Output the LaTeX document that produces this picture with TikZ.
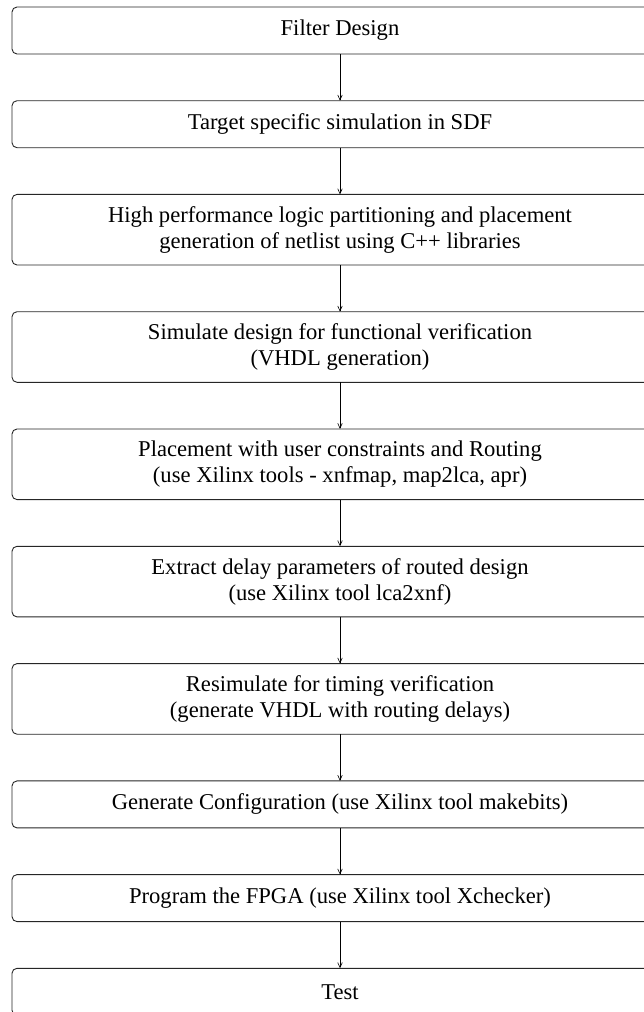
\documentclass[tikz,border=0pt]{standalone}
\usepackage{fontspec}
\setmainfont{Liberation Serif}
\usetikzlibrary{arrows.meta,positioning}

\begin{document}
\begin{tikzpicture}[x=1pt, y=1pt,
  stepbox/.style={draw=black!85, line width=0.9pt, rounded corners=5pt,
    minimum width=656pt, minimum height=47pt, inner sep=0pt, outer sep=0pt,
    align=center, font=\fontsize{22.6}{26}\selectfont},
  tallbox/.style={stepbox, minimum height=70.6pt},
  flow/.style={line width=0.6pt, -{Straight Barb[length=5pt,width=4.5pt]}},
  node distance=46.7pt]

\path [use as bounding box] (0,0) rectangle (643,-1012);

% BOXES
\node [stepbox] (filter) at (340,-30.5) {Filter Design};
\node [stepbox, below=of filter] (target) {Target specific simulation in SDF};
\node [tallbox, below=of target] (partition) {High performance logic partitioning and placement\\generation of netlist using C++ libraries};
\node [tallbox, below=of partition] (simulate) {Simulate design for functional verification\\(VHDL generation)};
\node [tallbox, below=of simulate] (place) {Placement with user constraints and Routing\\(use Xilinx tools - xnfmap, map2lca, apr)};
\node [tallbox, below=of place] (extract) {Extract delay parameters of routed design\\(use Xilinx tool lca2xnf)};
\node [tallbox, below=of extract] (resim) {Resimulate for timing verification\\(generate VHDL with routing delays)};
\node [stepbox, below=of resim] (config) {Generate Configuration (use Xilinx tool makebits)};
\node [stepbox, below=of config] (program) {Program the FPGA (use Xilinx tool Xchecker)};
\node [stepbox, below=of program] (test) {Test};

% ARROWS
\draw [flow] (filter) -- (target);
\draw [flow] (target) -- (partition);
\draw [flow] (partition) -- (simulate);
\draw [flow] (simulate) -- (place);
\draw [flow] (place) -- (extract);
\draw [flow] (extract) -- (resim);
\draw [flow] (resim) -- (config);
\draw [flow] (config) -- (program);
\draw [flow] (program) -- (test);

\end{tikzpicture}
\end{document}
